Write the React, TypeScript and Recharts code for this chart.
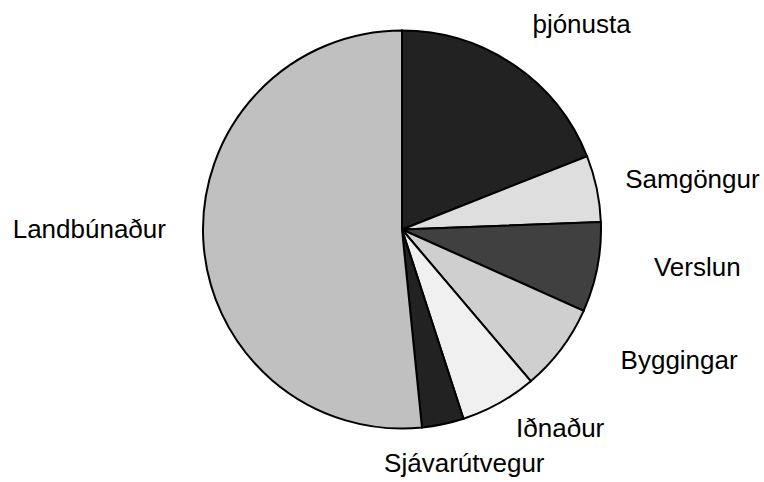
import { Cell, Pie, PieChart } from "recharts";

// sector names, clockwise from 12 o'clock
const sectors = [
  "þjónusta",
  "Samgöngur",
  "Verslun",
  "Byggingar",
  "Iðnaður",
  "Sjávarútvegur",
  "Landbúnaður",
];

// share of each sector (%)
const shares = [19.0, 5.4, 7.3, 7.1, 6.2, 3.4, 51.6];

const colors = ["#222222", "#dedede", "#404040", "#cfcfcf", "#f0f0f0", "#222222", "#c0c0c0"];

// small hand nudges so labels sit where the original put them
const labelNudge = [
  [34, 18],
  [37, 12],
  [41, -3],
  [70, -16],
  [32, -19],
  [9, -11],
  [-54, -5],
];

const data = sectors.map((name, i) => ({ name, value: shares[i] }));

const RADIAN = Math.PI / 180;

const renderLabel = (props: any) => {
  const { cx, cy, midAngle, outerRadius, index } = props;
  const r = outerRadius + 60;
  const x = cx + r * Math.cos(-midAngle * RADIAN) + labelNudge[index][0];
  const y = cy + r * Math.sin(-midAngle * RADIAN) + labelNudge[index][1];
  return (
    <text
      x={x}
      y={y}
      textAnchor="middle"
      fill="#000"
      fontSize={26}
      fontFamily="'Liberation Sans', Arial, sans-serif"
    >
      {data[index].name}
    </text>
  );
};

const App = () => {
  return (
    <div style={{ position: "absolute", left: 0, top: 0, background: "#fff" }}>
      <PieChart width={764} height={482} margin={{ top: 0, right: 0, bottom: 0, left: 0 }}>
        <Pie
          data={data}
          dataKey="value"
          cx={402}
          cy={229.5}
          outerRadius={199}
          startAngle={90}
          endAngle={-270}
          stroke="#000"
          strokeWidth={2}
          label={renderLabel}
          labelLine={false}
          isAnimationActive={false}
        >
          {data.map((d, i) => (
            <Cell key={d.name} fill={colors[i]} />
          ))}
        </Pie>
      </PieChart>
    </div>
  );
};

export default App;
